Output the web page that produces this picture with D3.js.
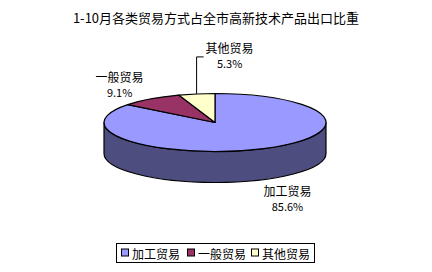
<!DOCTYPE html>
<html>
<head>
<meta charset="utf-8">
<script src="https://cdn.jsdelivr.net/npm/d3@7"></script>
<style>
  html, body { margin: 0; padding: 0; background: #fff; }
  svg { display: block; }
  text { font-family: "Noto Sans CJK SC", "DejaVu Sans", sans-serif; fill: #000; }
</style>
</head>
<body>
<svg id="chart" width="432" height="272"></svg>
<script>
// Trade-mode shares of high-tech product exports, Jan–Oct
const title = "1-10月各类贸易方式占全市高新技术产品出口比重";
const categories = ["加工贸易", "一般贸易", "其他贸易"];
const shares = [85.6, 9.1, 5.3];
const topColors = ["#9999FF", "#993366", "#FFFFCC"];
const sideColors = ["#4D4D80", "#5C1F3D", "#99997A"];

const svg = d3.select("#chart");
const W = 432;

// elliptical pie geometry
const cx = 215, cy = 122.5, rx = 111, ry = 29, depth = 31;

const pie = d3.pie().sort(null).value(d => d.v).startAngle(0).endAngle(2 * Math.PI);
const arcs = pie(categories.map((c, i) => ({ c, v: shares[i], i })));

const pt = (a, dy = 0) => [cx + rx * Math.sin(a), cy - ry * Math.cos(a) + dy];

// side wall: visible where the rim faces the viewer (between 90° and 270°)
const sideG = svg.append("g");
arcs.forEach(d => {
  const a0 = Math.max(d.startAngle, Math.PI / 2);
  const a1 = Math.min(d.endAngle, 3 * Math.PI / 2);
  if (a1 <= a0) return;
  const p0 = pt(a0), p1 = pt(a1), q1 = pt(a1, depth), q0 = pt(a0, depth);
  const path = `M${p0}A${rx},${ry} 0 0 1 ${p1}L${q1}A${rx},${ry} 0 0 0 ${q0}Z`;
  sideG.append("path")
    .attr("d", path)
    .attr("fill", sideColors[d.data.i])
    .attr("stroke", "#000")
    .attr("stroke-width", 1.2)
    .attr("stroke-linejoin", "round");
});

// top face slices
const topG = svg.append("g");
arcs.forEach(d => {
  const p0 = pt(d.startAngle), p1 = pt(d.endAngle);
  const large = d.endAngle - d.startAngle > Math.PI ? 1 : 0;
  topG.append("path")
    .attr("d", `M${cx},${cy}L${p0}A${rx},${ry} 0 ${large} 1 ${p1}Z`)
    .attr("fill", topColors[d.data.i])
    .attr("stroke", "#000")
    .attr("stroke-width", 1.2)
    .attr("stroke-linejoin", "round");
});

// data labels (offsets relative to each slice's rim mid-point)
const labelOffsets = [[24, 11], [-31, -22], [33, -46]];
const labelG = svg.append("g").attr("font-size", 12);
arcs.forEach(d => {
  const mid = (d.startAngle + d.endAngle) / 2;
  const front = mid > Math.PI / 2 && mid < 3 * Math.PI / 2;
  const [mx, my] = pt(mid, front ? depth : 0);
  const [ox, oy] = labelOffsets[d.data.i];
  const lx = mx + ox, ly = my + oy;
  labelG.append("text")
    .attr("x", lx).attr("y", ly)
    .attr("text-anchor", "middle")
    .attr("dominant-baseline", "central")
    .text(d.data.c);
  labelG.append("text")
    .attr("x", lx).attr("y", ly + 15)
    .attr("text-anchor", "middle")
    .attr("dominant-baseline", "central")
    .attr("font-family", "DejaVu Sans Mono, monospace")
    .attr("font-size", 11)
    .text(d3.format(".1f")(d.data.v) + "%");
  // leader line for the narrow slice
  if (d.data.i === 2) {
    const [bx, by] = pt(mid);
    labelG.append("path")
      .attr("d", `M${bx},${by}L${bx},${ly + 9}L${bx + 7},${ly + 9}`)
      .attr("fill", "none")
      .attr("stroke", "#000")
      .attr("stroke-width", 1);
  }
});

// title
svg.append("text")
  .attr("x", W / 2).attr("y", 17)
  .attr("text-anchor", "middle")
  .attr("dominant-baseline", "central")
  .attr("font-size", 13)
  .text(title);

// legend
const legend = svg.append("g");
const lgX = 116.5, lgY = 243.5, lgW = 198, lgH = 19;
legend.append("rect")
  .attr("x", lgX).attr("y", lgY).attr("width", lgW).attr("height", lgH)
  .attr("fill", "#fff").attr("stroke", "#000").attr("stroke-width", 1);
const itemX = [121, 187, 251];
categories.forEach((c, i) => {
  legend.append("rect")
    .attr("x", itemX[i] + 0.5).attr("y", lgY + 5.5)
    .attr("width", 7).attr("height", 7)
    .attr("fill", topColors[i]).attr("stroke", "#000").attr("stroke-width", 1);
  legend.append("text")
    .attr("x", itemX[i] + 11).attr("y", lgY + lgH / 2)
    .attr("dominant-baseline", "central")
    .attr("font-size", 12)
    .text(c);
});
</script>
</body>
</html>
